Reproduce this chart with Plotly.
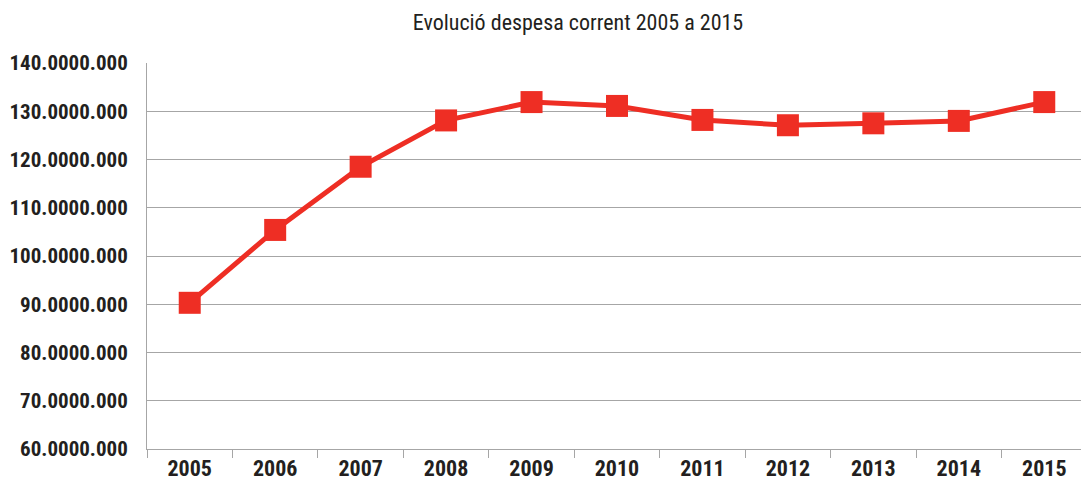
import plotly.graph_objects as go

# Current expenditure, 2005-2015
years = ["2005", "2006", "2007", "2008", "2009", "2010",
         "2011", "2012", "2013", "2014", "2015"]
despesa = [90.3e6, 105.4e6, 118.5e6, 128.1e6, 131.9e6, 131.1e6,
           128.2e6, 127.1e6, 127.5e6, 128.0e6, 131.9e6]

y_ticks = [60e6, 70e6, 80e6, 90e6, 100e6, 110e6, 120e6, 130e6, 140e6]
y_labels = ["60.0000.000", "70.0000.000", "80.0000.000", "90.0000.000",
            "100.0000.000", "110.0000.000", "120.0000.000", "130.0000.000",
            "140.0000.000"]

RED = "#EE2E24"
INK = "#231F20"
GRID = "#A6A6A6"
FONT = "Roboto Condensed, Liberation Sans Narrow, Liberation Sans, Arial, sans-serif"

fig = go.Figure(
    go.Scatter(
        x=years,
        y=despesa,
        mode="lines+markers",
        line=dict(color=RED, width=5),
        marker=dict(symbol="square", size=22, color=RED),
        hoverinfo="x+y",
    )
)

fig.update_layout(
    width=1081,
    height=481,
    margin=dict(l=147, r=0, t=63, b=32),
    paper_bgcolor="white",
    plot_bgcolor="white",
    showlegend=False,
    title=dict(
        text="Evolució despesa corrent 2005 a 2015",
        font=dict(family=FONT, size=22, color=INK),
        x=578 / 1081,
        xanchor="center",
        xref="container",
        y=1 - 22 / 481,
        yanchor="middle",
        yref="container",
    ),
)

fig.update_xaxes(
    type="category",
    range=[-0.5, 10.43],
    tickson="boundaries",
    ticks="outside",
    ticklen=8,
    tickcolor=GRID,
    showline=True,
    linecolor=GRID,
    linewidth=1,
    showgrid=False,
    automargin=False,
    tickfont=dict(family=FONT, size=22, color=INK, weight="bold"),
)

fig.update_yaxes(
    range=[60e6, 140e6],
    tickmode="array",
    tickvals=y_ticks,
    ticktext=y_labels,
    showgrid=True,
    gridcolor=GRID,
    gridwidth=1,
    showline=True,
    linecolor=GRID,
    linewidth=1,
    zeroline=False,
    ticks="outside",
    ticklen=14,
    tickcolor="rgba(0,0,0,0)",
    automargin=False,
    tickfont=dict(family=FONT, size=21, color=INK, weight="bold"),
)

fig.write_html("out.html")
